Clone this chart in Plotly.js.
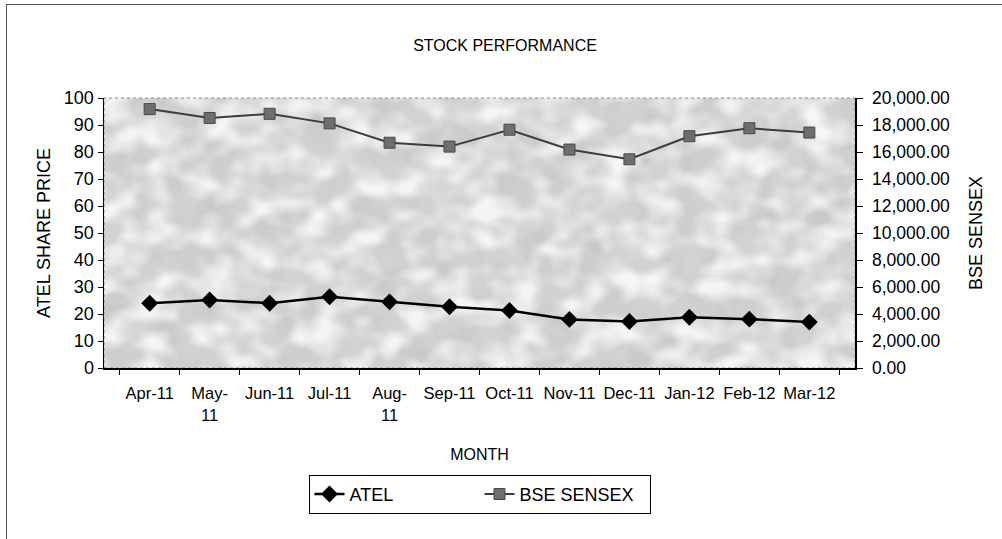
<!DOCTYPE html>
<html>
<head>
<meta charset="utf-8">
<script src="https://cdn.plot.ly/plotly-3.0.1.min.js"></script>
<style>
html,body{margin:0;padding:0;background:#fff;}
#wrap{position:relative;width:1002px;height:539px;}
#chart{width:1002px;height:539px;}
#frame{position:absolute;left:6px;top:4px;width:1000px;height:540px;border-left:1px solid #555;border-top:1px solid #555;pointer-events:none;}
</style>
</head>
<body>
<div id="wrap"><div id="chart"></div><div id="frame"></div></div>
<script>
const months = ["Apr-11","May-11","Jun-11","Jul-11","Aug-11","Sep-11","Oct-11","Nov-11","Dec-11","Jan-12","Feb-12","Mar-12"];
const monthLabels = ["Apr-11","May-<br>11","Jun-11","Jul-11","Aug-<br>11","Sep-11","Oct-11","Nov-11","Dec-11","Jan-12","Feb-12","Mar-12"];
const atel = [24.0, 25.2, 24.0, 26.4, 24.5, 22.7, 21.3, 18.0, 17.2, 18.8, 18.1, 17.0];
const sensex = [19180, 18520, 18830, 18120, 16690, 16400, 17650, 16180, 15460, 17170, 17760, 17440];
const leftTicks = [0,10,20,30,40,50,60,70,80,90,100];
const rightTicks = [0,2000,4000,6000,8000,10000,12000,14000,16000,18000,20000];

const FONT = "Arial, 'Liberation Sans', sans-serif";

const texture = "data:image/svg+xml;utf8," + encodeURIComponent(
'<svg xmlns="http://www.w3.org/2000/svg" width="751" height="271">' +
'<filter id="f" x="0" y="0" width="100%" height="100%">' +
'<feTurbulence type="fractalNoise" baseFrequency="0.03 0.04" numOctaves="2" seed="11" result="n"/>' +
'<feColorMatrix type="matrix" values="0 0 0 0 1  0 0 0 0 1  0 0 0 0 1  2.6 0 0 0 -1.0"/>' +
'</filter>' +
'<filter id="g" x="0" y="0" width="100%" height="100%">' +
'<feTurbulence type="fractalNoise" baseFrequency="0.04 0.03" numOctaves="2" seed="3" result="n"/>' +
'<feColorMatrix type="matrix" values="0 0 0 0 0.55  0 0 0 0 0.55  0 0 0 0 0.55  2.6 0 0 0 -1.0"/>' +
'</filter>' +
'<rect width="751" height="271" fill="#d2d2d2"/>' +
'<rect width="751" height="271" filter="url(#g)" opacity="0.6"/>' +
'<rect width="751" height="271" filter="url(#f)" opacity="0.8"/>' +
'</svg>');

const traces = [
  {
    x: months, y: atel, name: "ATEL", type: "scatter", mode: "lines+markers",
    line: {color: "#000", width: 2.5},
    marker: {symbol: "diamond", size: 13, color: "#000"},
    yaxis: "y"
  },
  {
    x: months, y: sensex, name: "BSE SENSEX", type: "scatter", mode: "lines+markers",
    line: {color: "#3c3c3c", width: 2},
    marker: {symbol: "square", size: 11, color: "#6e6e6e", line: {color: "#4a4a4a", width: 1}},
    yaxis: "y2"
  }
];

const layout = {
  width: 1002, height: 539,
  margin: {l: 104, r: 146.5, t: 97.5, b: 171, pad: 0},
  paper_bgcolor: "#fff",
  plot_bgcolor: "#d2d2d2",
  font: {family: FONT, color: "#000", size: 17},
  showlegend: true,
  title: {
    text: "STOCK PERFORMANCE",
    font: {family: FONT, size: 16, color: "#000"},
    xref: "container", x: 0.504, xanchor: "center",
    yref: "container", y: 1 - 45/539, yanchor: "middle"
  },
  xaxis: {
    type: "category",
    tickvals: months, ticktext: monthLabels,
    tickson: "boundaries",
    tickangle: 0,
    ticks: "outside", ticklen: 5, tickcolor: "#000",
    ticklabelstandoff: 10,
    showline: true, linecolor: "#000", linewidth: 1.5,
    showgrid: false, zeroline: false,
    tickfont: {family: FONT, size: 16.5, color: "#000"},
    title: {text: "MONTH", font: {family: FONT, size: 16, color: "#000"}, standoff: 26}
  },
  yaxis: {
    range: [0, 100], tickvals: leftTicks,
    ticks: "outside", ticklen: 5, tickcolor: "#000",
    showline: true, linecolor: "#000", linewidth: 1.5,
    showgrid: false, zeroline: false,
    tickfont: {family: FONT, size: 18, color: "#000"},
    title: {text: "ATEL SHARE PRICE", font: {family: FONT, size: 18, color: "#000"}, standoff: 8}
  },
  yaxis2: {
    range: [0, 20000], tickvals: rightTicks, tickformat: ",.2f",
    overlaying: "y", side: "right",
    ticks: "outside", ticklen: 6, tickcolor: "#000",
    ticklabelstandoff: 6,
    showline: true, linecolor: "#000", linewidth: 1.5,
    showgrid: false, zeroline: false,
    tickfont: {family: FONT, size: 17.5, color: "#000"},
    title: {text: "BSE SENSEX", font: {family: FONT, size: 18, color: "#000"}, standoff: 20}
  },
  legend: {
    orientation: "h",
    x: 0.5, xanchor: "center",
    y: -0.3956, yanchor: "top",
    bgcolor: "#fff", bordercolor: "#000", borderwidth: 1,
    font: {family: FONT, size: 18, color: "#000"},
    entrywidth: 125
  },
  images: [{
    source: texture, xref: "paper", yref: "paper",
    x: 0, y: 1, sizex: 1, sizey: 1, sizing: "stretch",
    xanchor: "left", yanchor: "top", layer: "below"
  }],
  shapes: [{
    type: "rect", xref: "paper", yref: "paper", x0: 0, x1: 1, y0: 0, y1: 1,
    line: {color: "#888", width: 1, dash: "dot"}, layer: "below"
  }]
};

Plotly.newPlot("chart", traces, layout, {displayModeBar: false, staticPlot: true});
</script>
</body>
</html>
